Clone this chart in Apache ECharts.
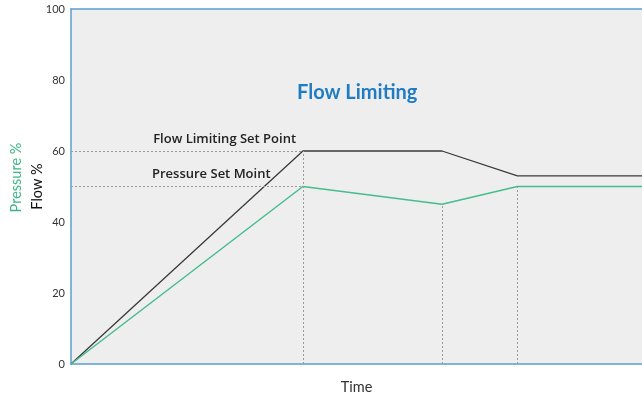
<!DOCTYPE html>
<html><head><meta charset="utf-8">
<script src="https://cdn.jsdelivr.net/npm/echarts@6/dist/echarts.min.js"></script>
<style>html,body{margin:0;padding:0;background:#fff}#c{width:642px;height:400px}</style>
</head><body><div id="c"></div>
<script>
var timePoints = [0, 40, 64, 77, 98.5];
var flowValues = [0, 60, 60, 53, 53];
var pressureValues = [0, 50, 45, 50, 50];
var yTicks = [0, 20, 40, 60, 80, 100];
var flowSetPoint = 60;
var pressureSetPoint = 50;
var annotations = [
  {text: 'Flow Limiting Set Point', coord: [26.5, 63.3]},
  {text: 'Pressure Set Moint', coord: [24.2, 53.3]}
];

var font = 'Lato';
var blue = '#5aa0cf';
var chart = echarts.init(document.getElementById('c'));
function pairs(xs, ys){ return xs.map(function(x,i){ return [x, ys[i]]; }); }
var dash = {color:'#9a9a9a', type:[2,2], width:1};
var option = {
  animation:false,
  backgroundColor:'#ffffff',
  title:{text:'Flow Limiting', left:292, top:78,
    textStyle:{color:'#1f7cc2', fontSize:20, fontWeight:'bold', fontFamily:font}},
  grid:{left:71, top:9, bottom:33, right:0, show:true, backgroundColor:'#eeeeee', borderWidth:0},
  xAxis:[
    {type:'value', min:0, max:98.5, axisLabel:{show:false}, axisTick:{show:false}, splitLine:{show:false},
      axisLine:{onZero:false, lineStyle:{color:blue, width:1.5}},
      name:'Time', nameLocation:'middle', nameGap:16, nameTextStyle:{color:'#333', fontSize:14.5, fontFamily:font}},
    {type:'value', min:0, max:98.5, position:'top', axisLabel:{show:false}, axisTick:{show:false}, splitLine:{show:false},
      axisLine:{show:true, onZero:false, lineStyle:{color:blue, width:1.5}}}
  ],
  yAxis:[
    {type:'value', min:0, max:100, interval:20, position:'left',
      axisLabel:{color:'#333', fontSize:11, fontFamily:font, margin:6,
        formatter:function(v){ return yTicks.indexOf(v)>=0 ? String(v) : ''; }},
      axisTick:{show:false}, splitLine:{show:false},
      axisLine:{show:true, onZero:false, lineStyle:{color:blue, width:1.5}},
      nameMoveOverlap:false,
      name:'Flow %', nameLocation:'middle', nameGap:26, nameTextStyle:{color:'#111', fontSize:14.5, fontFamily:font}},
    {type:'value', min:0, max:100, interval:20, position:'left', axisLabel:{show:false}, axisTick:{show:false},
      splitLine:{show:false}, axisLine:{show:false, onZero:false},
      nameMoveOverlap:false,
      name:'Pressure %', nameLocation:'middle', nameGap:47, nameTextStyle:{color:'#3db884', fontSize:14.5, fontFamily:font, padding:[0,0,0,18]}}
  ],
  series:[
    {type:'line', data:pairs(timePoints, flowValues), symbol:'none', yAxisIndex:0,
      lineStyle:{color:'#3a3a3a', width:1.3}, z:3,
      markLine:{silent:true, symbol:'none', lineStyle:dash, label:{show:false},
        data:[
          [{coord:[0, flowSetPoint]}, {coord:[timePoints[1], flowSetPoint]}],
          [{coord:[timePoints[1], 0]}, {coord:[timePoints[1], flowValues[1]]}]
        ]},
      markPoint:{silent:true, symbol:'circle', symbolSize:0,
        label:{show:true, position:'inside', color:'#222', fontSize:13, fontWeight:600, fontFamily:'Open Sans', formatter:function(p){return p.name;}},
        data:annotations.map(function(a){ return {name:a.text, coord:a.coord}; })}
    },
    {type:'line', data:pairs(timePoints, pressureValues), symbol:'none', yAxisIndex:1,
      lineStyle:{color:'#45bd8e', width:1.5}, z:3,
      markLine:{silent:true, symbol:'none', lineStyle:dash, label:{show:false},
        data:[
          [{coord:[0, pressureSetPoint]}, {coord:[timePoints[1], pressureSetPoint]}],
          [{coord:[timePoints[2], 0]}, {coord:[timePoints[2], pressureValues[2]]}],
          [{coord:[timePoints[3], 0]}, {coord:[timePoints[3], pressureValues[3]]}]
        ]}
    }
  ]
};
chart.setOption(option);
</script></body></html>
